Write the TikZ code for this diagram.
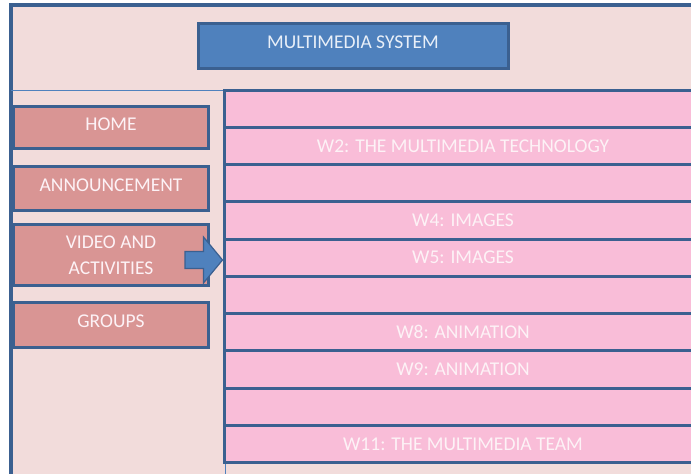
\documentclass[tikz,border=0pt]{standalone}
\usepackage{fontspec}
\setmainfont{Carlito}
\definecolor{frameblue}{HTML}{3B6090}
\definecolor{fillblue}{HTML}{4F81BD}
\definecolor{panelbg}{HTML}{F2DCDB}
\definecolor{rowpink}{HTML}{F9BDD8}
\definecolor{menurose}{HTML}{D99594}
\definecolor{lighttext}{HTML}{FDF2F6}
\definecolor{titletext}{HTML}{E8EFF8}
\tikzset{
  x=1pt, y=-1pt,
  bodyfont/.style={font=\fontsize{19.5}{26}\selectfont},
  titlebox/.style={draw=frameblue, line width=3pt, fill=fillblue, text=titletext,
    bodyfont, inner sep=0pt, text height=12.5pt, text depth=7pt},
  menubox/.style={draw=frameblue, line width=3pt, fill=menurose, text=lighttext,
    bodyfont, inner sep=0pt, minimum width=195pt},
  menuone/.style={menubox, text height=12.5pt, text depth=7pt},
  weekrow/.style={draw=frameblue, line width=3pt, fill=rowpink, text=lighttext,
    bodyfont, inner sep=0pt, minimum width=478pt, minimum height=37.27pt}
}
\begin{document}
\begin{tikzpicture}
\useasboundingbox (0,0) rectangle (691,474);
\fill[white] (0,0) rectangle (691,474);

% page frame
\draw[frameblue, line width=4pt, fill=panelbg] (11,5) rectangle (720,500);

% title
\node[titlebox, minimum width=310pt, minimum height=45pt] (title) at (353,45.5) {MULTIMEDIA SYSTEM};

% navigation panel outline
\draw[fillblue, line width=0.8pt] (11,90) -- (225,90) -- (225,480);

% navigation buttons
\node[menuone, minimum height=42pt] (home) at (111,127.5) {HOME};
\node[menuone, minimum height=44pt] (announce) at (111,188.5) {ANNOUNCEMENT};
\node[menubox, minimum height=61pt, align=center] (video) at (111,255) {VIDEO AND\\ACTIVITIES};
\node[menuone, minimum height=45pt] (groups) at (111,325) {GROUPS};

% weekly content rows
\foreach \i/\txt in {1/{},2/{W2: THE MULTIMEDIA TECHNOLOGY},3/{},4/{W4: IMAGES},5/{W5: IMAGES},
                     6/{},7/{W8: ANIMATION},8/{W9: ANIMATION},9/{},10/{W11: THE MULTIMEDIA TEAM}}
  \node[weekrow] (w\i) at (463, {90+37.27*(\i-1)+18.635}) {\txt};

% block arrow from the video button into the weeks
\coordinate (tip) at (w5.west |- 0,260);
\draw[frameblue, line width=1.2pt, fill=fillblue, line join=miter]
  (185,251.5) -- (203.5,251.5) -- (203.5,237) -- (tip) -- (203.5,283)
  -- (203.5,268.5) -- (185,268.5) -- cycle;
\end{tikzpicture}
\end{document}
